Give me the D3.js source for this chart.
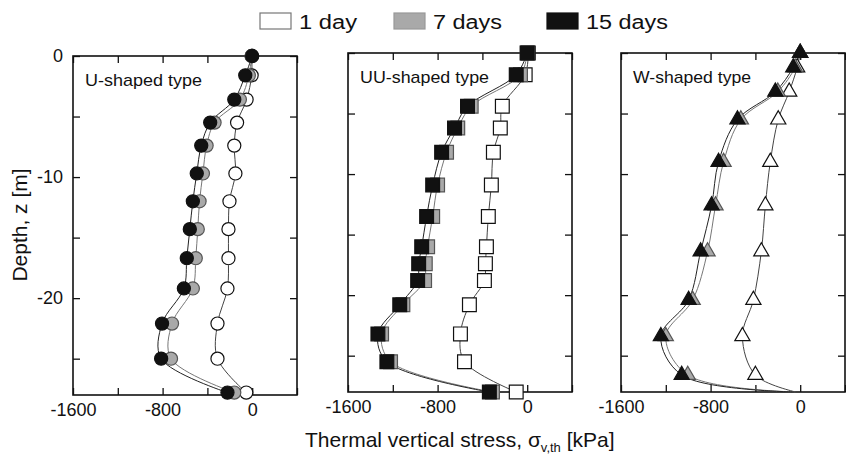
<!DOCTYPE html>
<html>
<head>
<meta charset="utf-8">
<script src="https://cdn.jsdelivr.net/npm/d3@7"></script>
<style>
  body { margin: 0; background: #fff; }
  svg { display: block; font-family: "Liberation Sans", Arial, sans-serif; }
</style>
</head>
<body>
<div id="chart"></div>
<script>
// series names
var days = ["1 day", "7 days", "15 days"]

// U-shaped type: depth [m] and thermal vertical stress [kPa]
var uDepth = [0, -1.6, -3.6, -5.5, -7.4, -9.7, -12.0, -14.3, -16.7, -19.2, -22.1, -25.0, -27.8]
var uDay1  = [-5, -5, -50, -135, -160, -150, -203, -212, -212, -221, -310, -310, -53]
var uDay7  = [-5, -30, -110, -336, -407, -440, -470, -486, -504, -530, -716, -725, -160]
var uDay15 = [0, -62, -160, -375, -455, -495, -530, -557, -584, -610, -805, -813, -221]

// UU-shaped type
var uuDepth = [0, -1.8, -4.4, -6.2, -8.2, -10.9, -13.5, -16.0, -17.4, -18.8, -20.8, -23.2, -25.5, -28.0]
var uuDay1  = [10, -18, -222, -240, -302, -320, -347, -364, -373, -382, -516, -596, -560, -98]
var uuDay7  = [0, -60, -500, -620, -720, -800, -844, -889, -910, -916, -1110, -1300, -1220, -310]
var uuDay15 = [0, -98, -533, -649, -764, -844, -898, -942, -969, -978, -1138, -1333, -1253, -338]

// W-shaped type (last point has no marker)
var wDepth = [0, -1.2, -3.2, -5.5, -9.0, -12.6, -16.4, -20.4, -23.4, -26.6, -28.0]
var wDay1  = [0, -27, -98, -196, -267, -311, -347, -418, -516, -400, -40]
var wDay7  = [0, -45, -200, -530, -684, -756, -827, -960, -1200, -1004, -45]
var wDay15 = [0, -62, -222, -560, -729, -791, -889, -996, -1244, -1058, -50]

// axis ticks
var xTicks = [-1600, -1200, -800, -400, 0, 400]
var xLabels = [-1600, -800, 0]
var yTicks = [0, -5, -10, -15, -20, -25]
var yLabels = [0, -10, -20]

var panels = [
  {title: "U-shaped type", depth: uDepth, series: [uDay1, uDay7, uDay15], symbol: d3.symbolCircle, size: 135, lastMarker: true},
  {title: "UU-shaped type", depth: uuDepth, series: [uuDay1, uuDay7, uuDay15], symbol: d3.symbolSquare, size: 190, lastMarker: true},
  {title: "W-shaped type", depth: wDepth, series: [wDay1, wDay7, wDay15], symbol: d3.symbolTriangle, size: 100, lastMarker: false}
]

var width = 846, height = 458
var lefts = [73, 348, 621], tops = [56, 53, 53]
var pw = 224, ph = 339
var titleW = [117, 129, 118]

var fills = ["#ffffff", "#a9a9a9", "#111111"]
var lineCols = ["#444", "#777", "#222"]

var svg = d3.select("#chart").append("svg")
  .attr("width", width).attr("height", height)

panels.forEach(function(p, i) {
  var g = svg.append("g").attr("transform", "translate(" + lefts[i] + "," + tops[i] + ")")

  var x = d3.scaleLinear().domain([-1600, 400]).range([0, pw])
  var y = d3.scaleLinear().domain([0, -28]).range([0, ph])

  // ticks point inward on all four sides
  var xb = g.append("g").attr("transform", "translate(0," + ph + ")")
    .call(d3.axisBottom(x).tickValues(xTicks).tickSize(-7).tickSizeOuter(0).tickPadding(8)
      .tickFormat(function(d) { return xLabels.indexOf(d) >= 0 ? d : "" }))
  var xt = g.append("g")
    .call(d3.axisTop(x).tickValues(xTicks).tickSize(-7).tickSizeOuter(0).tickFormat(""))
  var yl = g.append("g")
    .call(d3.axisLeft(y).tickValues(yTicks).tickSize(-7).tickSizeOuter(0).tickPadding(10)
      .tickFormat(function(d) { return (i == 0 && yLabels.indexOf(d) >= 0) ? d : "" }))
  var yr = g.append("g").attr("transform", "translate(" + pw + ",0)")
    .call(d3.axisRight(y).tickValues(yTicks).tickSize(-7).tickSizeOuter(0).tickFormat(""))

  ;[xb, xt, yl, yr].forEach(function(a) {
    a.select(".domain").remove()
    a.selectAll(".tick line").attr("stroke", "#111").attr("stroke-width", 1.3)
    a.selectAll("text").attr("font-size", 18).attr("fill", "#111")
      .attr("font-family", "'Liberation Sans', Arial, sans-serif")
  })

  g.append("rect")
    .attr("width", pw).attr("height", ph)
    .attr("fill", "none").attr("stroke", "#111").attr("stroke-width", 1.6)

  g.append("text")
    .attr("x", 12).attr("y", 30)
    .attr("font-size", 17).attr("fill", "#111")
    .attr("textLength", titleW[i]).attr("lengthAdjust", "spacingAndGlyphs")
    .text(p.title)

  var line = d3.line()
    .x(function(d) { return x(d.v) })
    .y(function(d) { return y(d.z) })
    .curve(d3.curveCatmullRom.alpha(0.5))

  var sym = d3.symbol().type(p.symbol).size(p.size)

  p.series.forEach(function(vals, s) {
    var pts = vals.map(function(v, k) { return {v: v, z: p.depth[k]} })
    g.append("path")
      .datum(pts)
      .attr("d", line)
      .attr("fill", "none")
      .attr("stroke", lineCols[s])
      .attr("stroke-width", 1)
  })

  p.series.forEach(function(vals, s) {
    var pts = vals.map(function(v, k) { return {v: v, z: p.depth[k]} })
    if (!p.lastMarker) pts = pts.slice(0, -1)
    g.selectAll(".m" + s)
      .data(pts)
      .enter()
      .append("path")
      .attr("class", "m" + s)
      .attr("d", sym)
      .attr("transform", function(d) { return "translate(" + x(d.v) + "," + y(d.z) + ")" })
      .attr("fill", fills[s])
      .attr("stroke", s == 1 ? "#555" : "#111")
      .attr("stroke-width", 1.2)
  })
})

// legend
var legX = [260, 394, 547], legW = [58, 69, 82]
var legStroke = ["#777", "#999", "#111"]
days.forEach(function(d, i) {
  svg.append("rect")
    .attr("x", legX[i]).attr("y", 13).attr("width", 31).attr("height", 16)
    .attr("fill", fills[i]).attr("stroke", legStroke[i]).attr("stroke-width", 1.2)
  svg.append("text")
    .attr("x", legX[i] + 39).attr("y", 29)
    .attr("font-size", 20).attr("fill", "#111")
    .attr("textLength", legW[i]).attr("lengthAdjust", "spacingAndGlyphs")
    .text(d)
})

// axis titles
svg.append("text")
  .attr("transform", "translate(27,225) rotate(-90)")
  .attr("text-anchor", "middle")
  .attr("font-size", 21).attr("fill", "#111")
  .text("Depth, z [m]")

var xl = svg.append("text")
  .attr("x", 305).attr("y", 447)
  .attr("font-size", 21).attr("fill", "#111")
xl.append("tspan").text("Thermal vertical stress, \u03c3")
xl.append("tspan").attr("font-size", 13).attr("dy", 5).text("v,th")
xl.append("tspan").attr("dy", -5).text(" [kPa]")
</script>
</body>
</html>
